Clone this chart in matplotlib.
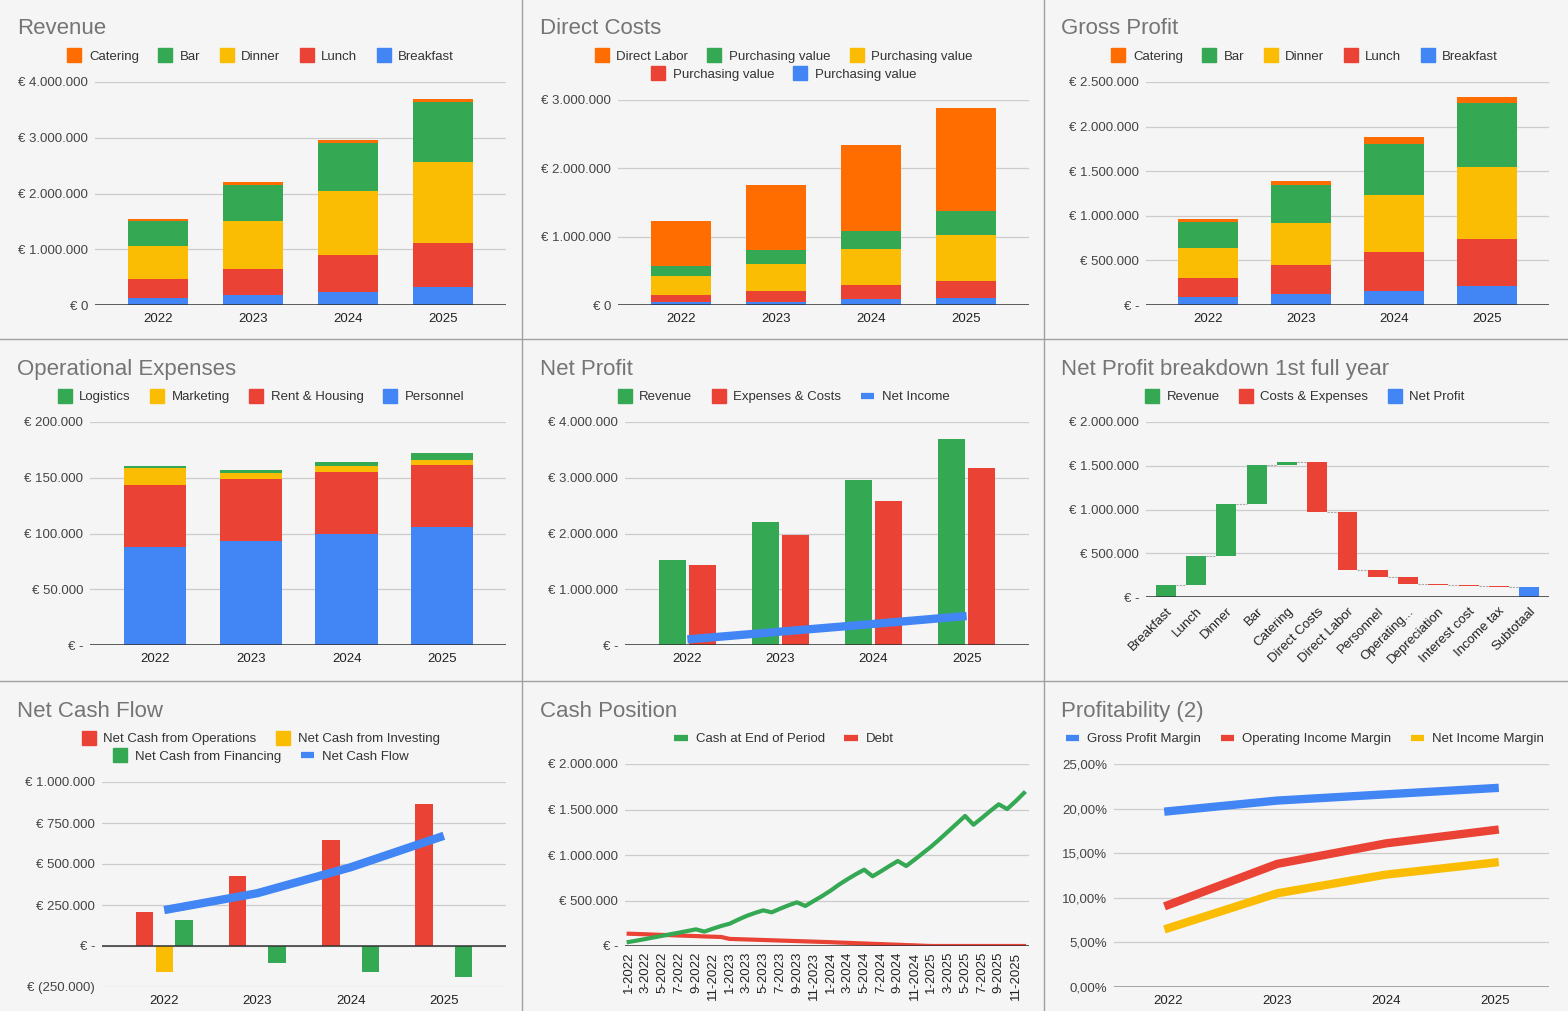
import numpy as np
import matplotlib.pyplot as plt
from matplotlib.lines import Line2D
from matplotlib.ticker import FuncFormatter

plt.rcParams['font.family'] = ['Liberation Sans', 'DejaVu Sans']

W, H = 1568, 1011
BG = '#f5f5f5'
BLUE = '#4285f4'
RED = '#ea4335'
YELLOW = '#fbbc04'
GREEN = '#34a853'
ORANGE = '#ff6d01'
GRID = '#cccccc'

years = ['2022', '2023', '2024', '2025']

# Revenue
rev_breakfast = [130000, 185000, 233000, 317000]
rev_lunch = [335000, 467000, 664000, 795000]
rev_dinner = [595000, 861000, 1154000, 1453000]
rev_bar = [447000, 639000, 849000, 1082000]
rev_catering = [34000, 54000, 60000, 53000]

# Direct costs
dc_labor = [658000, 946000, 1254000, 1512000]
dc_purch_green = [147000, 205000, 268000, 352000]
dc_purch_yellow = [273000, 390000, 517000, 673000]
dc_purch_red = [112000, 161000, 210000, 249000]
dc_purch_blue = [39000, 49000, 88000, 102000]

# Gross profit
gp_breakfast = [86000, 123000, 157000, 213000]
gp_lunch = [220000, 325000, 437000, 531000]
gp_dinner = [329000, 475000, 639000, 807000]
gp_bar = [299000, 422000, 572000, 714000]
gp_catering = [34000, 45000, 75000, 71000]

# Operational expenses
ox_personnel = [88000, 93300, 99600, 105500]
ox_rent = [55600, 55900, 55900, 55900]
ox_marketing = [15000, 4800, 4700, 4500]
ox_logistics = [2000, 3300, 3900, 6000]

# Net profit
np_revenue = [1525000, 2206000, 2960000, 3700000]
np_costs = [1429000, 1967000, 2577000, 3181000]
np_income = [100000, 240000, 378000, 520000]

# Net profit breakdown 1st full year
wf_labels = ['Breakfast', 'Lunch', 'Dinner', 'Bar', 'Catering', 'Direct Costs',
             'Direct Labor', 'Personnel', 'Operating...', 'Depreciation',
             'Interest cost', 'Income tax', 'Subtotaal']
wf_steps = [134000, 332000, 595000, 447000, 34000, -569000, -660000,
            -88000, -73000, -14000, -12000, -17000]
wf_total = 109000

# Net cash flow
ncf_ops = [208000, 425000, 646000, 864000]
ncf_inv = [-158000, 0, 0, 0]
ncf_fin = [156000, -103000, -158000, -190000]
ncf_net = [219000, 322000, 480000, 672000]

# Cash position (monthly)
months = [f'{m}-{y}' for y in range(2022, 2026) for m in range(1, 13)]
cash = [44000, 60000, 77000, 95000, 112000, 130000, 147000, 165000,
        183000, 158000, 190000, 220000,
        245000, 289000, 330000, 363000, 392000, 370000, 410000, 447000,
        480000, 440000, 495000, 549000,
        608000, 674000, 733000, 788000, 839000, 766000, 821000, 879000,
        934000, 879000, 949000, 1022000,
        1095000, 1176000, 1260000, 1344000, 1429000, 1333000, 1407000, 1484000,
        1557000, 1505000, 1590000, 1681000]
debt = [135000, 132000, 129000, 125000, 122000, 119000, 115000, 112000,
        109000, 105000, 102000, 99000,
        78000, 75000, 72000, 69000, 66000, 63000, 60000, 57000,
        54000, 51000, 48000, 45000,
        42000, 38000, 35000, 31000, 28000, 24000, 21000, 17000,
        14000, 10000, 7000, 3000,
        0, 0, 0, 0, 0, 0, 0, 0, 0, 0, 0, 0]

# Profitability
gross_margin = [19.7, 20.9, 21.6, 22.3]
operating_margin = [9.2, 13.8, 16.1, 17.6]
net_margin = [6.6, 10.5, 12.6, 13.95]


def euro(zero):
    def fmt(v, pos=None):
        if abs(v) < 1:
            return zero
        s = f'{abs(v):,.0f}'.replace(',', '.')
        return f'€ ({s})' if v < 0 else f'€ {s}'
    return FuncFormatter(fmt)


def make_axes(x0, y0, x1, y1, ylim, step, zero='€ -', base=True):
    ax = fig.add_axes([x0 / W, 1 - y1 / H, (x1 - x0) / W, (y1 - y0) / H])
    ax.set_facecolor('none')
    for s in ax.spines.values():
        s.set_visible(False)
    ax.set_ylim(*ylim)
    ax.set_yticks(np.arange(ylim[0], ylim[1] + step / 2, step))
    ax.yaxis.set_major_formatter(euro(zero))
    ax.yaxis.grid(True, color=GRID, lw=0.9)
    ax.set_axisbelow(True)
    ax.tick_params(length=0, labelsize=9.5, labelcolor='#444444')
    ax.tick_params(axis='y', pad=5)
    ax.tick_params(axis='x', pad=6, labelcolor='#222222')
    if base:
        ax.axhline(0, color='#333333', lw=1.1, zorder=4)
    return ax


def title(x, y, text):
    # y is the baseline of the title text
    fig.text(x / W, 1 - y / H, text, fontsize=16, color='#757575',
             ha='left', va='baseline')


def sq(c):
    return Line2D([], [], marker='s', ls='none', markersize=9.5,
                  markerfacecolor=c, markeredgecolor=c)


def ln(c):
    return Line2D([], [], color=c, lw=4.5, solid_capstyle='butt')


def legend_row(cx, y, handles, labels):
    fig.legend(handles, labels, loc='center', bbox_to_anchor=(cx / W, 1 - y / H),
               ncol=len(labels), frameon=False, fontsize=9.5, handlelength=1.0,
               handletextpad=0.6, columnspacing=1.5, borderpad=0,
               labelcolor='#333333')


def stacked(ax, series, colors, width):
    x = np.arange(len(years))
    bottom = np.zeros(len(years))
    for vals, c in zip(series, colors):
        ax.bar(x, vals, width, bottom=bottom, color=c, zorder=2)
        bottom += np.array(vals)
    ax.set_xticks(x)
    ax.set_xticklabels(years)
    ax.set_xlim(-0.665, 3.665)


fig = plt.figure(figsize=(W / 100, H / 100), dpi=100, facecolor=BG)

# Revenue
ax = make_axes(95, 82, 506, 305, (0, 4000000), 1000000, zero='€ 0')
stacked(ax, [rev_breakfast, rev_lunch, rev_dinner, rev_bar, rev_catering],
        [BLUE, RED, YELLOW, GREEN, ORANGE], 0.64)
title(17, 34, 'Revenue')
legend_row(261, 57, [sq(ORANGE), sq(GREEN), sq(YELLOW), sq(RED), sq(BLUE)],
           ['Catering', 'Bar', 'Dinner', 'Lunch', 'Breakfast'])

# Direct costs
ax = make_axes(618, 100, 1029, 305, (0, 3000000), 1000000, zero='€ 0')
stacked(ax, [dc_purch_blue, dc_purch_red, dc_purch_yellow, dc_purch_green, dc_labor],
        [BLUE, RED, YELLOW, GREEN, ORANGE], 0.64)
title(540, 34, 'Direct Costs')
legend_row(784, 57, [sq(ORANGE), sq(GREEN), sq(YELLOW)],
           ['Direct Labor', 'Purchasing value', 'Purchasing value'])
legend_row(784, 75, [sq(RED), sq(BLUE)],
           ['Purchasing value', 'Purchasing value'])

# Gross profit
ax = make_axes(1146, 82, 1549, 305, (0, 2500000), 500000)
stacked(ax, [gp_breakfast, gp_lunch, gp_dinner, gp_bar, gp_catering],
        [BLUE, RED, YELLOW, GREEN, ORANGE], 0.64)
title(1061, 34, 'Gross Profit')
legend_row(1305, 57, [sq(ORANGE), sq(GREEN), sq(YELLOW), sq(RED), sq(BLUE)],
           ['Catering', 'Bar', 'Dinner', 'Lunch', 'Breakfast'])

# Operational expenses
ax = make_axes(90, 422, 506, 645, (0, 200000), 50000)
stacked(ax, [ox_personnel, ox_rent, ox_marketing, ox_logistics],
        [BLUE, RED, YELLOW, GREEN], 0.65)
ax.set_xlim(-0.68, 3.665)
title(17, 375, 'Operational Expenses')
legend_row(261, 397, [sq(GREEN), sq(YELLOW), sq(RED), sq(BLUE)],
           ['Logistics', 'Marketing', 'Rent & Housing', 'Personnel'])

# Net profit
ax = make_axes(625, 422, 1029, 645, (0, 4000000), 1000000)
x = np.arange(len(years))
ax.bar(x - 0.16, np_revenue, 0.29, color=GREEN, zorder=2)
ax.bar(x + 0.16, np_costs, 0.29, color=RED, zorder=2)
ax.plot(x, np_income, color=BLUE, lw=6, solid_capstyle='butt', zorder=5)
ax.set_xticks(x)
ax.set_xticklabels(years)
ax.set_xlim(-0.67, 3.67)
title(540, 375, 'Net Profit')
legend_row(784, 397, [sq(GREEN), sq(RED), ln(BLUE)],
           ['Revenue', 'Expenses & Costs', 'Net Income'])

# Net profit breakdown
ax = make_axes(1146, 422, 1549, 597, (0, 2000000), 500000)
ends = np.cumsum(wf_steps)
starts = ends - np.array(wf_steps)
for i, (s, e) in enumerate(zip(starts, ends)):
    c = GREEN if e >= s else RED
    ax.bar(i, e - s, 0.66, bottom=s, color=c, zorder=2)
    ax.plot([i + 0.33, i + 0.67], [e, e], color='#aaaaaa', lw=0.8, ls=(0, (2, 1)), zorder=2)
n = len(wf_steps)
ax.bar(n, wf_total, 0.66, color=BLUE, zorder=2)
ax.set_xticks(np.arange(len(wf_labels)))
ax.set_xticklabels(wf_labels, rotation=45, ha='right', rotation_mode='anchor')
ax.set_xlim(-0.66, 12.66)
title(1061, 375, 'Net Profit breakdown 1st full year')
legend_row(1305, 397, [sq(GREEN), sq(RED), sq(BLUE)],
           ['Revenue', 'Costs & Expenses', 'Net Profit'])

# Net cash flow
ax = make_axes(102, 782, 506, 987, (-250000, 1000000), 250000)
ax.bar(x - 0.211, ncf_ops, 0.186, color=RED, zorder=2)
ax.bar(x, ncf_inv, 0.186, color=YELLOW, zorder=2)
ax.bar(x + 0.211, ncf_fin, 0.186, color=GREEN, zorder=2)
ax.plot(x, ncf_net, color=BLUE, lw=6, solid_capstyle='butt', zorder=5)
ax.set_xticks(x)
ax.set_xticklabels(years)
ax.set_xlim(-0.667, 3.667)
title(17, 717, 'Net Cash Flow')
legend_row(261, 739, [sq(RED), sq(YELLOW)],
           ['Net Cash from Operations', 'Net Cash from Investing'])
legend_row(261, 757, [sq(GREEN), ln(BLUE)],
           ['Net Cash from Financing', 'Net Cash Flow'])

# Cash position
ax = make_axes(625, 764, 1029, 946, (0, 2000000), 500000)
xm = np.arange(len(months))
ax.plot(xm, debt, color=RED, lw=3, zorder=3)
ax.plot(xm, cash, color=GREEN, lw=3, zorder=5)
ax.set_xticks(xm[::2])
ax.set_xticklabels(months[::2], rotation=90, ha='center', va='top')
ax.tick_params(axis='x', pad=4)
ax.set_xlim(-0.44, 47.6)
title(540, 717, 'Cash Position')
legend_row(784, 739, [ln(GREEN), ln(RED)], ['Cash at End of Period', 'Debt'])

# Profitability
ax = make_axes(1114, 764, 1549, 987, (0, 25), 5, base=False)
ax.yaxis.set_major_formatter(FuncFormatter(lambda v, p: f'{v:.2f}%'.replace('.', ',')))
ax.axhline(0, color='#9e9e9e', lw=2, zorder=4)
ax.plot(x, gross_margin, color=BLUE, lw=6, zorder=5)
ax.plot(x, operating_margin, color=RED, lw=6, zorder=5)
ax.plot(x, net_margin, color=YELLOW, lw=6, zorder=5)
ax.set_xticks(x)
ax.set_xticklabels(years)
ax.set_xlim(-0.5, 3.5)
title(1061, 717, 'Profitability (2)')
legend_row(1305, 739, [ln(BLUE), ln(RED), ln(YELLOW)],
           ['Gross Profit Margin', 'Operating Income Margin', 'Net Income Margin'])

# panel dividers
for xd in (522, 1044):
    fig.add_artist(Line2D([xd / W, xd / W], [0, 1], transform=fig.transFigure,
                          color='#a0a0a0', lw=1))
for yd in (339, 681):
    fig.add_artist(Line2D([0, 1], [1 - yd / H, 1 - yd / H], transform=fig.transFigure,
                          color='#a0a0a0', lw=1))

fig.savefig('out.png', dpi=100, facecolor=BG)
